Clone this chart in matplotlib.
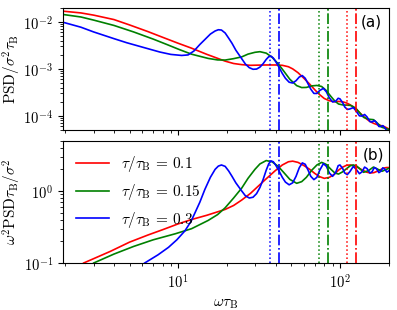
"""PSD of delayed feedback noise for three delay ratios, plain and scaled by omega^2."""

import math

import matplotlib
matplotlib.use("Agg")
import matplotlib.pyplot as plt
from matplotlib.ticker import FuncFormatter, LogLocator, NullFormatter

plt.rcParams["mathtext.fontset"] = "cm"
plt.rcParams["font.family"] = ["DejaVu Sans"]

TAU_LABELS = ["0.1", "0.15", "0.3"]
COLORS = ["r", "g", "b"]

# markers for each delay: dotted and dash-dot guide lines (omega * tau_B)
DOTTED_W = [110.7, 73.8, 36.9]
DASHDOT_W = [125.7, 83.8, 41.9]

# --- panel (a): PSD / sigma^2 tau_B ---
RED_TOP_W = [1.9, 2.5, 3.0, 4.0, 5.0, 6.5, 8.0, 10, 12, 15, 19.5, 22, 24.7, 28, 31, 35, 39.6, 44, 48, 51,
             55, 60, 65, 70, 75, 80, 86, 92, 98, 104, 110, 116, 122, 130, 138, 146, 154, 162, 170, 178,
             186, 194, 202]
RED_TOP_PSD = [0.0170, 0.0155, 0.0139, 0.0112, 0.0086, 0.0062, 0.0047, 0.0035, 0.00278, 0.00204,
               0.00146, 0.0013, 0.00123, 0.00119, 0.0012, 0.00121, 0.00121, 0.00119, 0.00111, 0.0010,
               0.00083, 0.000625, 0.000473, 0.000357, 0.000281, 0.000234, 0.00021, 0.0002, 0.000203,
               0.000199, 0.000188, 0.000171, 0.000151, 0.000124, 0.000102, 8.6e-5, 7.5e-5, 6.9e-5,
               6.5e-5, 6.25e-5, 6.0e-5, 5.6e-5, 5.2e-5]

GREEN_TOP_W = [1.9, 2.5, 3.0, 4.0, 5.3, 7.0, 8.5, 10.2, 12.1, 15.3, 17.5, 19.5, 22, 24.7, 27, 29.8, 32,
               35, 38, 41.5, 45, 49, 54, 58, 62, 67, 72, 77, 82, 88, 93, 98, 104, 110, 116, 121, 127,
               134, 140, 150, 161, 172, 182, 192, 202]
GREEN_TOP_PSD = [0.0145, 0.0127, 0.0109, 0.0084, 0.0061, 0.0043, 0.0033, 0.00256, 0.00205, 0.00167,
                 0.00155, 0.00154, 0.00165, 0.0018, 0.00206, 0.00225, 0.00232, 0.00216, 0.00177,
                 0.00128, 0.00089, 0.0006, 0.00044, 0.0004, 0.000403, 0.000434, 0.000444, 0.000422,
                 0.00035, 0.000258, 0.000206, 0.000179, 0.000171, 0.000169, 0.000167, 0.000157,
                 0.000138, 0.000111, 9.3e-5, 8.5e-5, 8.3e-5, 6.8e-5, 5.7e-5, 5.4e-5, 5.1e-5]

BLUE_TOP_W = [1.9, 2.5, 3.0, 4.0, 4.8, 6.0, 7.7, 9.0, 10.5, 11.5, 12.5, 13.6, 14.6, 15.8, 16.9, 17.7,
              18.5, 19.5, 20.5, 21.5, 22.7, 24.7, 26, 27.5, 29, 30.5, 32, 33.5, 35, 36.3, 37.5, 38.7,
              40, 42, 44, 46, 48.5, 51, 53.5, 56, 58.5, 61, 63.5, 66, 69, 72, 75, 79, 82.5, 86, 90,
              94, 97.5, 100, 104, 107, 111, 115, 121, 126, 132, 137, 142, 147, 153, 158, 163, 168,
              174, 179, 184, 189, 195, 200]
BLUE_TOP_PSD = [0.0100, 0.0077, 0.0061, 0.0044, 0.0036, 0.0029, 0.00228, 0.00203, 0.00193, 0.00198,
                0.0024, 0.0033, 0.0042, 0.0055, 0.0064, 0.0068, 0.0067, 0.0058, 0.0045, 0.0035,
                0.0025, 0.00164, 0.00127, 0.00106, 0.00098, 0.00099, 0.00109, 0.00129, 0.00159,
                0.00182, 0.00186, 0.0017, 0.00144, 0.00108, 0.0008, 0.00063, 0.00052, 0.0005,
                0.00056, 0.00067, 0.00072, 0.00063, 0.00048, 0.00037, 0.0003, 0.0003, 0.000347,
                0.000385, 0.000323, 0.000241, 0.000198, 0.000204, 0.000237, 0.00023, 0.00019,
                0.000155, 0.000137, 0.00014, 0.00015, 0.000126, 0.0001, 9.9e-5, 0.000107, 9.5e-5,
                7.6e-5, 7.4e-5, 8.0e-5, 7.3e-5, 5.95e-5, 5.9e-5, 6.2e-5, 5.65e-5, 4.8e-5, 4.75e-5]

# --- panel (b): omega^2 PSD tau_B / sigma^2 ---
RED_BOT_W = [2.6, 3.0, 3.8, 5.0, 6.5, 8.0, 10, 12, 15, 19.5, 22, 24.7, 28, 31, 35, 39.6, 44, 48, 51, 55,
             60, 65, 70, 75, 80, 86, 92, 98, 104, 110, 116, 122, 130, 138, 146, 154, 162, 170, 178,
             186, 194, 202]
RED_BOT_VAL = [0.10, 0.115, 0.145, 0.195, 0.245, 0.29, 0.35, 0.40, 0.46, 0.555, 0.63, 0.75, 0.93, 1.15,
               1.48, 1.9, 2.3, 2.55, 2.6, 2.5, 2.25, 2.0, 1.75, 1.58, 1.5, 1.55, 1.7, 1.95, 2.15, 2.28,
               2.3, 2.25, 2.1, 1.95, 1.83, 1.78, 1.8, 1.88, 1.98, 2.08, 2.12, 2.12]

GREEN_BOT_W = [3.0, 4.0, 5.3, 7.0, 9.6, 12.1, 15.3, 17.5, 19.5, 22, 24.7, 27, 29.8, 32, 35, 38, 41.5,
               45, 49, 54, 58, 62, 67, 72, 77, 82, 88, 93, 98, 104, 110, 116, 121, 127, 134, 140, 150,
               161, 172, 182, 192, 202]
GREEN_BOT_VAL = [0.10, 0.133, 0.17, 0.21, 0.255, 0.30, 0.39, 0.47, 0.585, 0.8, 1.1, 1.5, 2.0, 2.38,
                 2.65, 2.55, 2.2, 1.8, 1.45, 1.28, 1.35, 1.55, 1.95, 2.3, 2.5, 2.35, 2.0, 1.78, 1.72,
                 1.85, 2.05, 2.25, 2.3, 2.22, 2.0, 1.82, 1.92, 2.15, 2.0, 1.88, 1.98, 2.08]

BLUE_BOT_W = [6.2, 7.5, 8.7, 9.8, 11, 12, 12.7, 13.6, 14.6, 15.8, 16.9, 17.7, 18.5, 19.5, 20.5, 21.5,
              22.7, 24.7, 26, 27.5, 29, 30.5, 32, 33.5, 35, 36.3, 37.5, 38.7, 40, 42, 44, 46, 48.5,
              51, 53.5, 56, 58.5, 61, 63.5, 66, 69, 72, 75, 79, 82.5, 86, 90, 94, 97.5, 100, 104,
              107, 111, 115, 121, 126, 132, 137, 142, 147, 153, 158, 163, 168, 174, 179, 184, 189,
              195, 200]
BLUE_BOT_VAL = [0.10, 0.13, 0.165, 0.21, 0.28, 0.38, 0.5, 0.7, 1.05, 1.55, 2.0, 2.22, 2.3, 2.2, 1.9,
                1.6, 1.3, 1.0, 0.86, 0.8, 0.82, 0.92, 1.12, 1.45, 1.95, 2.4, 2.62, 2.55, 2.3, 1.9,
                1.55, 1.33, 1.22, 1.3, 1.6, 2.1, 2.46, 2.35, 1.95, 1.6, 1.44, 1.55, 1.95, 2.4, 2.2,
                1.78, 1.6, 1.8, 2.25, 2.3, 2.05, 1.78, 1.69, 1.85, 2.2, 2.0, 1.74, 1.85, 2.15, 2.05,
                1.78, 1.85, 2.12, 2.05, 1.8, 1.88, 2.1, 2.02, 1.83, 1.9]


def log_label(value: float, _pos: int) -> str:
    exponent = int(round(math.log10(value)))
    return rf"$10^{{{exponent}}}$"


def style_axis(ax, ylim: tuple[float, float], show_xlabels: bool) -> None:
    ax.set_xscale("log")
    ax.set_yscale("log")
    ax.set_xlim(1.93, 202)
    ax.set_ylim(*ylim)
    ax.xaxis.set_major_locator(LogLocator(base=10))
    ax.xaxis.set_minor_locator(LogLocator(base=10, subs=range(2, 10)))
    ax.yaxis.set_minor_locator(LogLocator(base=10, subs=range(2, 10)))
    ax.xaxis.set_minor_formatter(NullFormatter())
    ax.yaxis.set_minor_formatter(NullFormatter())
    ax.yaxis.set_major_formatter(FuncFormatter(log_label))
    if show_xlabels:
        ax.xaxis.set_major_formatter(FuncFormatter(log_label))
    else:
        ax.xaxis.set_major_formatter(NullFormatter())
    ax.tick_params(labelsize=10.5)


def guide_lines(ax) -> None:
    for color, w_dot, w_dash in zip(COLORS, DOTTED_W, DASHDOT_W):
        ax.axvline(w_dot, color=color, linestyle=":", linewidth=1.1)
        ax.axvline(w_dash, color=color, linestyle="-.", linewidth=1.2)


def main() -> None:
    fig = plt.figure(figsize=(3.97, 3.10), dpi=100)
    ax_top = fig.add_axes([0.158, 0.5806, 0.8227, 0.3945])
    ax_bot = fig.add_axes([0.158, 0.1516, 0.8227, 0.3945])

    top_series = [(RED_TOP_W, RED_TOP_PSD), (GREEN_TOP_W, GREEN_TOP_PSD), (BLUE_TOP_W, BLUE_TOP_PSD)]
    bot_series = [(RED_BOT_W, RED_BOT_VAL), (GREEN_BOT_W, GREEN_BOT_VAL), (BLUE_BOT_W, BLUE_BOT_VAL)]

    for color, (w, psd) in zip(COLORS, top_series):
        ax_top.plot(w, psd, color=color, linewidth=1.2)
    for color, label, (w, val) in zip(COLORS, TAU_LABELS, bot_series):
        ax_bot.plot(w, val, color=color, linewidth=1.2,
                    label=rf"$\tau/\tau_\mathrm{{B}}\,=\,{label}$")

    guide_lines(ax_top)
    guide_lines(ax_bot)

    style_axis(ax_top, (5e-5, 2e-2), show_xlabels=False)
    style_axis(ax_bot, (0.1, 5.0), show_xlabels=True)

    ax_top.set_ylabel(r"$\mathrm{PSD}/\sigma^2\tau_\mathrm{B}$", fontsize=11)
    ax_bot.set_ylabel(r"$\omega^2\mathrm{PSD}\tau_\mathrm{B}/\sigma^2$", fontsize=11)
    ax_top.yaxis.set_label_coords(-0.122, 0.5)
    ax_bot.yaxis.set_label_coords(-0.122, 0.5)
    ax_bot.set_xlabel(r"$\omega\tau_\mathrm{B}$", fontsize=11)

    ax_top.text(0.946, 0.886, "(a)", transform=ax_top.transAxes, ha="center", va="center", fontsize=11)
    ax_bot.text(0.95, 0.883, "(b)", transform=ax_bot.transAxes, ha="center", va="center", fontsize=11)

    ax_bot.legend(loc="upper left", frameon=False, fontsize=11, handlelength=2.1)

    fig.savefig("out.png", dpi=100)
    plt.close(fig)


if __name__ == "__main__":
    main()
